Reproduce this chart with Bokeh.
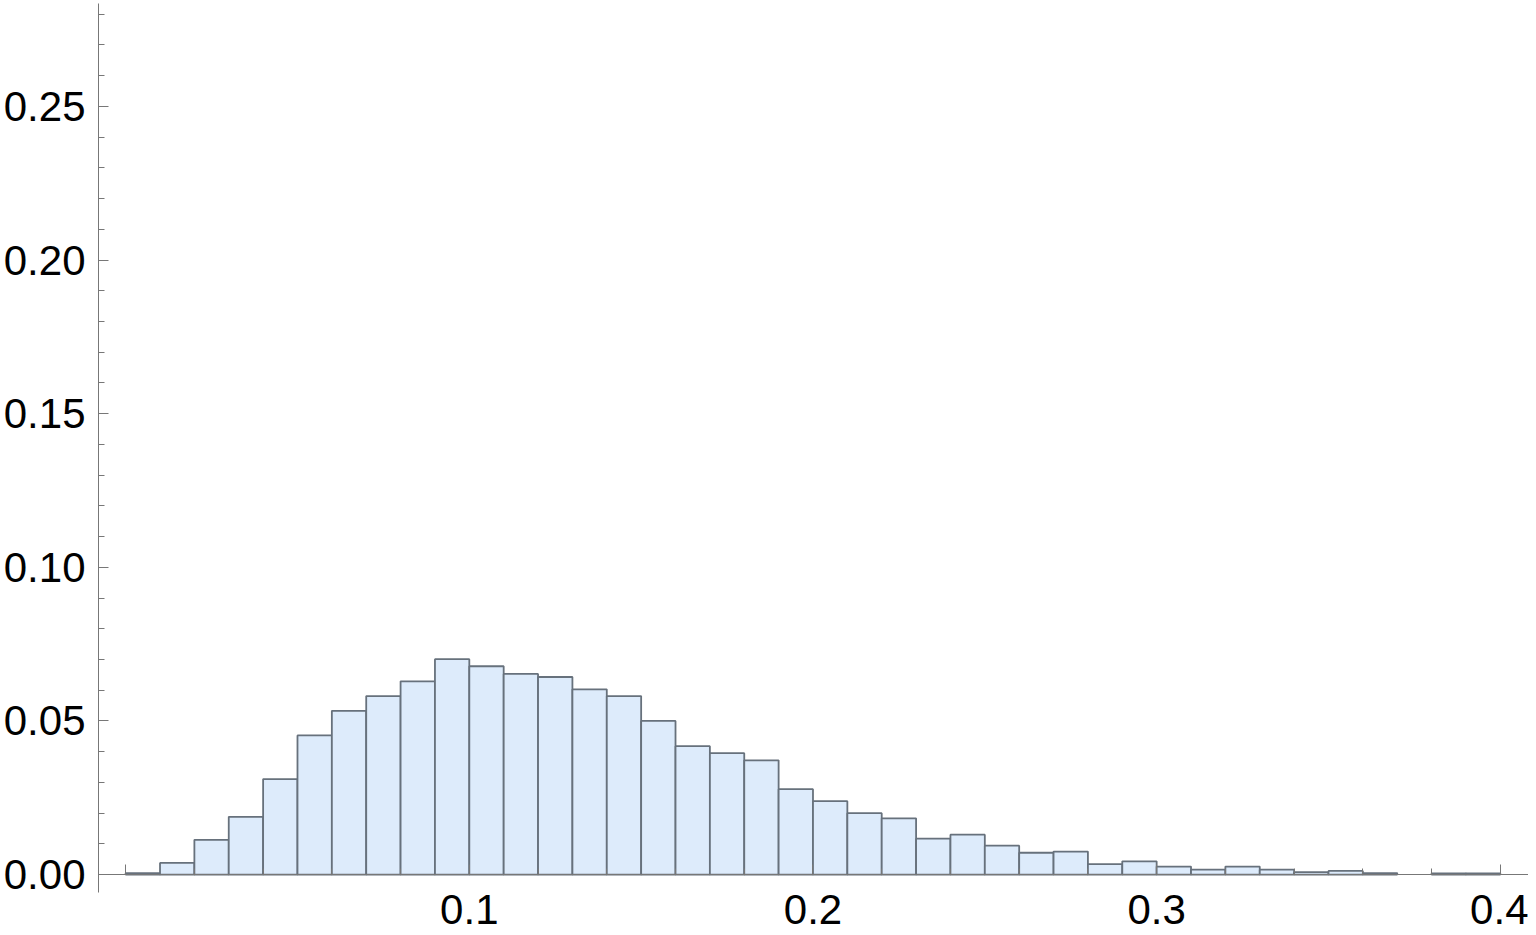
from bokeh.plotting import figure
from bokeh.models import FixedTicker, LinearAxis, Range1d, PrintfTickFormatter
from bokeh.embed import file_html
from bokeh.resources import INLINE

# ---- data ----
bin_width = 0.01
bin_starts = [round(i * bin_width, 2) for i in range(40)]
heights = [0.0005, 0.0038, 0.0113, 0.0188, 0.0311, 0.0453, 0.0533, 0.0581, 0.0629, 0.0701,
           0.0678, 0.0653, 0.0643, 0.0603, 0.0581, 0.0500, 0.0418, 0.0395, 0.0372, 0.0278,
           0.0239, 0.0200, 0.0183, 0.0117, 0.0130, 0.0094, 0.0071, 0.0075, 0.0034, 0.0043,
           0.0026, 0.0016, 0.0026, 0.0016, 0.0008, 0.0012, 0.0005, 0.0, 0.0004, 0.0004]

x_major = [0.0, 0.1, 0.2, 0.3, 0.4]
x_minor = [0.02, 0.04, 0.06, 0.08, 0.12, 0.14, 0.16, 0.18, 0.22, 0.24, 0.26, 0.28,
           0.32, 0.34, 0.36, 0.38]
y_major = [0.0, 0.05, 0.10, 0.15, 0.20, 0.25]
y_minor = [0.01, 0.02, 0.03, 0.04, 0.06, 0.07, 0.08, 0.09, 0.11, 0.12, 0.13, 0.14,
           0.16, 0.17, 0.18, 0.19, 0.21, 0.22, 0.23, 0.24, 0.26, 0.27, 0.28]

lefts = [s for s, h in zip(bin_starts, heights) if h > 0]
rights = [round(s + bin_width, 2) for s, h in zip(bin_starts, heights) if h > 0]
tops = [h for h in heights if h > 0]

p = figure(width=1528, height=934, output_backend="svg", toolbar_location=None,
           x_axis_location=None, y_axis_location=None,
           x_range=Range1d(-0.0079, 0.4082), y_range=Range1d(-0.0195, 0.2835),
           min_border_left=90, min_border_right=0, min_border_top=3, min_border_bottom=0)
p.outline_line_color = None
p.xgrid.visible = False
p.ygrid.visible = False
p.background_fill_color = "white"
p.border_fill_color = "white"

p.quad(left=lefts, right=rights, top=tops, bottom=0,
       fill_color="#ddebfb", line_color="#67717c", line_width=1.8)

axis_color = "#777777"
font = "Liberation Sans"

yaxis = LinearAxis(ticker=FixedTicker(ticks=y_major, minor_ticks=y_minor),
                   formatter=PrintfTickFormatter(format="%.2f"),
                   bounds=(-0.0057, 0.2835))
xaxis = LinearAxis(ticker=FixedTicker(ticks=x_major, minor_ticks=x_minor),
                   fixed_location=0, major_label_overrides={0: ""})

for ax in (xaxis, yaxis):
    ax.axis_line_color = axis_color
    ax.axis_line_width = 1
    ax.major_tick_line_color = axis_color
    ax.minor_tick_line_color = axis_color
    ax.major_tick_in = 10
    ax.major_tick_out = 0
    ax.minor_tick_in = 6
    ax.minor_tick_out = 0
    ax.major_label_text_font = font
    ax.major_label_text_font_size = "42px"
    ax.major_label_text_color = "black"

yaxis.major_label_standoff = 13
xaxis.major_label_standoff = 20

p.add_layout(yaxis, "left")
p.add_layout(xaxis, "below")

open("out.html", "w").write(file_html(p, INLINE))
